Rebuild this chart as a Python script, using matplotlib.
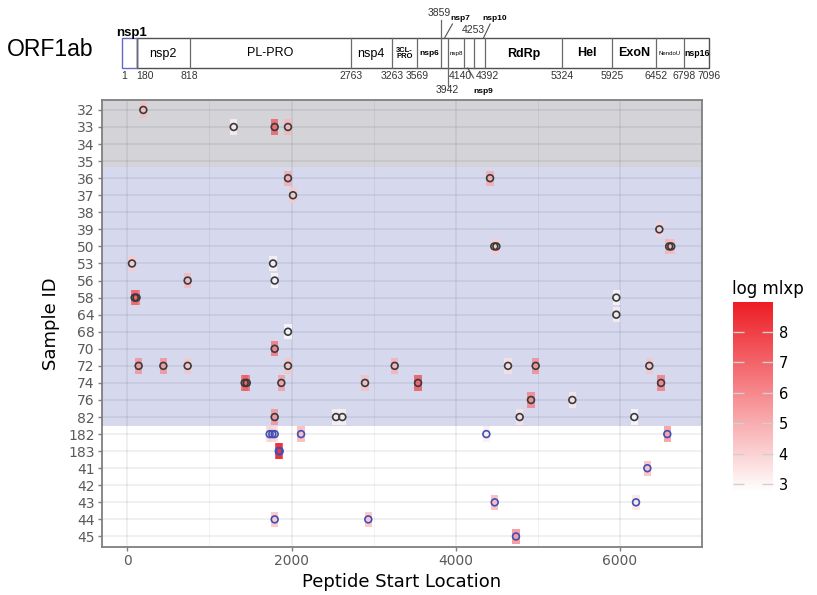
import numpy as np
import matplotlib
matplotlib.use('Agg')
import matplotlib.pyplot as plt
from matplotlib.colors import LinearSegmentedColormap, Normalize
from matplotlib.cm import ScalarMappable
from matplotlib.patches import Rectangle

# ---------------- data ----------------
sample_order = ['32', '33', '34', '35', '36', '37', '38', '39', '50', '53', '56', '58', '64',
                '68', '70', '72', '74', '76', '82', '182', '183', '41', '42', '43', '44', '45']
gray_band_rows = ['32', '33', '34', '35']
blue_band_rows = ['36', '37', '38', '39', '50', '53', '56', '58', '64', '68', '70', '72', '74', '76', '82']

pep_sample = ['32',
              '33', '33', '33',
              '36', '36',
              '37',
              '39',
              '50', '50', '50', '50',
              '53', '53',
              '56', '56',
              '58', '58', '58',
              '64',
              '68',
              '70',
              '72', '72', '72', '72', '72', '72', '72', '72',
              '74', '74', '74', '74', '74', '74',
              '76', '76',
              '82', '82', '82', '82', '82',
              '182', '182', '182', '182', '182', '182',
              '183', '183',
              '41',
              '43', '43',
              '44', '44',
              '45']
pep_start = [195,
             1296, 1795, 1957,
             1957, 4418,
             2018,
             6480,
             4470, 4495, 6600, 6625,
             57, 1775,
             735, 1795,
             90, 112, 5956,
             5956,
             1957,
             1795,
             138, 439, 735, 1957, 3257, 4637, 4974, 6358,
             1430, 1455, 1876, 2895, 3541, 6501,
             4917, 5420,
             1795, 2542, 2619, 4779, 6175,
             1734, 1766, 1795, 2116, 4373, 6577,
             1845, 1856,
             6334,
             4475, 6196,
             1795, 2935,
             4734]
pep_logmlxp = [4.6,
               3.1, 7.5, 4.8,
               5.2, 5.2,
               4.3,
               4.0,
               4.0, 4.2, 5.0, 4.6,
               4.2, 3.0,
               4.8, 2.9,
               7.6, 7.0, 2.9,
               3.2,
               2.8,
               6.8,
               6.0, 6.0, 4.4, 4.4, 5.0, 3.6, 6.2, 4.4,
               7.4, 7.2, 5.6, 4.6, 7.8, 6.6,
               6.4, 3.4,
               6.0, 3.1, 3.1, 3.5, 2.8,
               4.0, 4.2, 3.8, 5.0, 3.3, 6.0,
               8.8, 8.6,
               4.8,
               5.0, 3.6,
               4.6, 4.6,
               6.2]

x_ticks = [0, 2000, 4000, 6000]
cbar_ticks = [3, 4, 5, 6, 7, 8]

domain_bounds = [1, 180, 818, 2763, 3263, 3569, 3859, 3942, 4140, 4253, 4392, 5324, 5925, 6452, 6798, 7096]
domain_names = ['nsp1', 'nsp2', 'PL-PRO', 'nsp4', '3CL-\nPRO', 'nsp6', 'nsp7', 'nsp8', 'nsp9',
                'nsp10', 'RdRp', 'Hel', 'ExoN', 'NendoU', 'nsp16']

# ---------------- figure ----------------
fig = plt.figure(figsize=(8.17, 5.95), dpi=100)
ax = fig.add_axes([101.7 / 817, 1 - 546.7 / 595, 600 / 817, 447 / 595])

ypos = {s: i for i, s in enumerate(sample_order)}
ys = np.array([ypos[s] for s in pep_sample], dtype=float)
xs = np.array(pep_start, dtype=float)
vals = np.array(pep_logmlxp)

cmap = LinearSegmentedColormap.from_list('wr', ['#FFFFFF', '#ED1C24'])
norm = Normalize(vmin=2.75, vmax=8.97)

# shaded bands
g0 = ypos[gray_band_rows[0]] - 0.6
g1 = ypos[gray_band_rows[-1]] + 0.35
b1 = ypos[blue_band_rows[-1]] + 0.52
ax.axhspan(g0, g1, color='#D3D3D8', lw=0, zorder=0.1)
ax.axhspan(g1, b1, color='#D6D8EE', lw=0, zorder=0.1)

# grid
ax.set_axisbelow(True)
ax.set_xticks(x_ticks)
ax.set_xticks([1000, 3000, 5000], minor=True)
ax.set_yticks(range(len(sample_order)))
ax.set_yticklabels(sample_order)
ax.grid(True, which='major', color='black', alpha=0.08, lw=1.1)
ax.grid(True, which='minor', axis='x', color='black', alpha=0.05, lw=0.7)

# tiles
ax.bar(xs, 0.9, bottom=ys - 0.45, width=90, color=cmap(norm(vals)), alpha=0.75,
       linewidth=0, zorder=1)

# points
shaded = set(gray_band_rows) | set(blue_band_rows)
edge = ['#3A3A3A' if s in shaded else '#3F4FB5' for s in pep_sample]
ax.scatter(xs, ys, s=24, facecolors='none', edgecolors=edge, linewidths=1.2, zorder=3)

ax.set_xlim(-312, 6996)
ax.set_ylim(len(sample_order) - 1 + 0.6, -0.6)

for sp in ax.spines.values():
    sp.set_color('#7F7F7F')
    sp.set_linewidth(1.3)
ax.tick_params(which='major', length=3, width=1, color='#7F7F7F', labelsize=10,
               labelcolor='#5A5A5A', pad=2)
ax.tick_params(which='minor', length=0)
ax.set_xlabel('Peptide Start Location', fontsize=13, labelpad=4)
ax.set_ylabel('Sample ID', fontsize=13, labelpad=6)

# colorbar
cax = fig.add_axes([733 / 817, 1 - 492 / 595, 40 / 817, 190 / 595])
cb = fig.colorbar(ScalarMappable(norm=norm, cmap=cmap), cax=cax, ticks=cbar_ticks)
cb.outline.set_visible(False)
cax.tick_params(left=True, right=True, direction='in', length=8, width=1,
                color='#D0D0D0', labelsize=10.5, pad=4)
cax.set_title('log mlxp', fontsize=12, loc='left', pad=6, x=-0.02)

# ---------------- ORF1ab schematic ----------------
axs = fig.add_axes([0, 1 - 100 / 595, 1, 100 / 595])
axs.axis('off')
px_per = 587 / 7095
axs.set_xlim(1 - 122 / px_per, 1 + (817 - 122) / px_per)
axs.set_ylim(100, 0)

fig.text(7 / 817, 1 - 49 / 595, 'ORF1ab', fontsize=16.5, family='Liberation Sans',
         va='center', ha='left')

lc = '#505050'
top_y, bot_y = 38, 68
axs.add_patch(Rectangle((domain_bounds[1], top_y), domain_bounds[-1] - domain_bounds[1],
                        bot_y - top_y, fill=False, ec=lc, lw=1.0))
axs.add_patch(Rectangle((domain_bounds[0], top_y), domain_bounds[1] - domain_bounds[0],
                        bot_y - top_y, fill=False, ec='#6666CC', lw=1.0))
for b in domain_bounds[1:-1]:
    y0, y1 = top_y, bot_y
    if b == 3859:
        y0 = 20
    if b == 3942:
        y1 = 86
    axs.plot([b, b], [y0, y1], color='#6A6A6A', lw=0.9)

fam = 'Liberation Sans'
label_style = {
    'nsp2': (9, 'normal'), 'PL-PRO': (9, 'normal'), 'nsp4': (9, 'normal'),
    '3CL-\nPRO': (5.5, 'bold'), 'nsp6': (6, 'bold'), 'nsp8': (4.5, 'normal'),
    'RdRp': (9, 'bold'), 'Hel': (9, 'bold'), 'ExoN': (9, 'bold'),
    'NendoU': (4.3, 'normal'), 'nsp16': (6.3, 'bold'),
}
for i, name in enumerate(domain_names):
    if name in label_style:
        fs, fw = label_style[name]
        cx = (domain_bounds[i] + domain_bounds[i + 1]) / 2
        axs.text(cx, 53.5, name, fontsize=fs, fontweight=fw, family=fam,
                 ha='center', va='center', linespacing=1.0)

# outside labels
axs.text(110, 33, 'nsp1', fontsize=9.5, fontweight='bold', family=fam, ha='center', va='center')
axs.plot([3900, 3995], [38, 24], color='#505050', lw=0.8)
axs.text(4090, 18, 'nsp7', fontsize=6, fontweight='bold', family=fam, ha='center', va='center')
axs.plot([4370, 4450], [38, 24], color='#505050', lw=0.8)
axs.text(4500, 18, 'nsp10', fontsize=6, fontweight='bold', family=fam, ha='center', va='center')
axs.text(4243, 30, '4253', fontsize=7.5, family=fam, ha='center', va='center', color='#333333')
axs.plot([4180, 4250], [68, 78], color='#505050', lw=0.8)
axs.text(4370, 91, 'nsp9', fontsize=6, fontweight='bold', family=fam, ha='center', va='center')
axs.text(3835, 13, '3859', fontsize=7.5, family=fam, ha='center', va='center', color='#333333')
axs.text(3935, 90, '3942', fontsize=7.5, family=fam, ha='center', va='center', color='#333333')

num_y = 76
for b in domain_bounds:
    if b in (3859, 3942, 4253):
        continue
    ha, xx = 'center', b
    if b == 180:
        ha, xx = 'left', b - 10
    elif b == 4140:
        ha, xx = 'right', b + 95
    elif b == 4392:
        ha, xx = 'left', b - 115
    elif b == 1:
        xx = b + 20
    axs.text(xx, num_y, str(b), fontsize=7.5, family=fam, ha=ha, va='center', color='#333333')

fig.savefig('out.png', dpi=100)
